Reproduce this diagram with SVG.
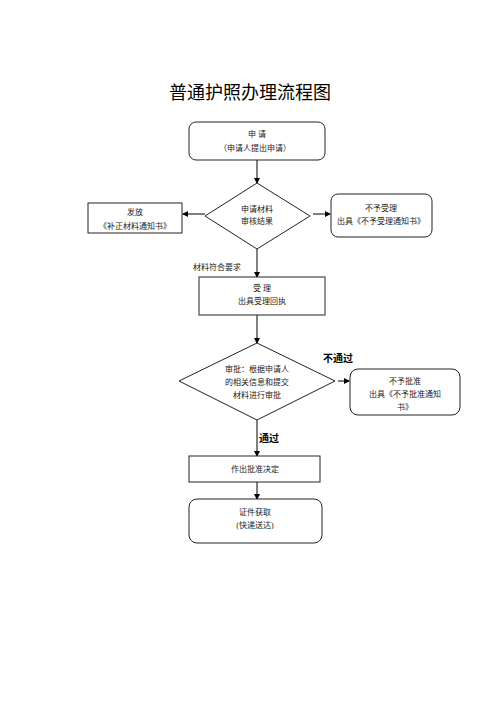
<svg xmlns="http://www.w3.org/2000/svg" width="500" height="707" viewBox="0 0 500 707">
<defs>
<marker id="arr" markerWidth="6" markerHeight="6" refX="5" refY="3" orient="auto" markerUnits="userSpaceOnUse">
<path d="M0,0 L6,3 L0,6 Z" fill="#000"/>
</marker>
</defs>
<style>
.box{fill:#fff;stroke:#222;stroke-width:1}
.t{font-family:"Liberation Serif","Noto Sans CJK SC",serif;font-size:8px;fill:#222;text-anchor:middle}
.lb{font-family:"Liberation Serif","Noto Sans CJK SC",serif;font-size:8px;fill:#222}
.b{font-family:"Liberation Sans","Noto Sans CJK SC",sans-serif;font-size:10px;font-weight:bold;fill:#000}
.c{stroke:#000;stroke-width:1;fill:none;marker-end:url(#arr)}
</style>
<rect width="500" height="707" fill="#fff"/>
<text x="250" y="99" text-anchor="middle" font-family="'Noto Sans CJK SC',serif" font-size="18" fill="#000">普通护照办理流程图</text>

<g id="connectors">
<line class="c" x1="257" y1="160" x2="257" y2="183"/>
<line class="c" x1="205" y1="214" x2="183" y2="214"/>
<line class="c" x1="313" y1="214" x2="330" y2="214"/>
<line class="c" x1="257" y1="249" x2="257" y2="277"/>
<line class="c" x1="257" y1="315" x2="257" y2="343"/>
<line class="c" x1="338" y1="381" x2="349" y2="381"/>
<line class="c" x1="257" y1="420" x2="257" y2="456"/>
<line class="c" x1="257" y1="482" x2="257" y2="499"/>
<text class="lb" x="193" y="270">材料符合要求</text>
<text class="b" x="323" y="362">不通过</text>
<text class="b" x="259" y="442">通过</text>
</g>

<g id="n-apply">
<rect class="box" x="189" y="122" width="136" height="38" rx="7"/>
<text class="t" x="257" y="137">申  请</text>
<text class="t" x="255" y="151">（申请人提出申请）</text>
</g>

<g id="n-review">
<polygon class="box" points="257,183 310,216 257,249 205,216"/>
<text class="t" x="257" y="212">申请材料</text>
<text class="t" x="257" y="224">审核结果</text>
</g>

<g id="n-supplement">
<rect class="box" x="88" y="203" width="94" height="30"/>
<text class="t" x="135" y="215">发放</text>
<text class="t" x="135" y="229">《补正材料通知书》</text>
</g>

<g id="n-reject1">
<rect class="box" x="331" y="194" width="101" height="43" rx="7"/>
<text class="t" x="381" y="211">不予受理</text>
<text class="t" x="381" y="224">出具《不予受理通知书》</text>
</g>

<g id="n-accept">
<rect class="box" x="199" y="277" width="126" height="38"/>
<text class="t" x="262" y="291">受  理</text>
<text class="t" x="262" y="304">出具受理回执</text>
</g>

<g id="n-approve">
<polygon class="box" points="257,343 335,381 257,420 179,381"/>
<text class="t" x="257" y="372">审批：根据申请人</text>
<text class="t" x="257" y="385">的相关信息和提交</text>
<text class="t" x="257" y="398">材料进行审批</text>
</g>

<g id="n-reject2">
<rect class="box" x="350" y="369" width="110" height="46" rx="8"/>
<text class="t" x="405" y="384">不予批准</text>
<text class="t" x="405" y="397">出具《不予批准通知</text>
<text class="t" x="405" y="410">书》</text>
</g>

<g id="n-decide">
<rect class="box" x="189" y="456" width="131" height="26"/>
<text class="t" x="255" y="472">作出批准决定</text>
</g>

<g id="n-obtain">
<rect class="box" x="189" y="499" width="133" height="44" rx="8"/>
<text class="t" x="255" y="515">证件获取</text>
<text class="t" x="255" y="528">(快递送达)</text>
</g>
</svg>
